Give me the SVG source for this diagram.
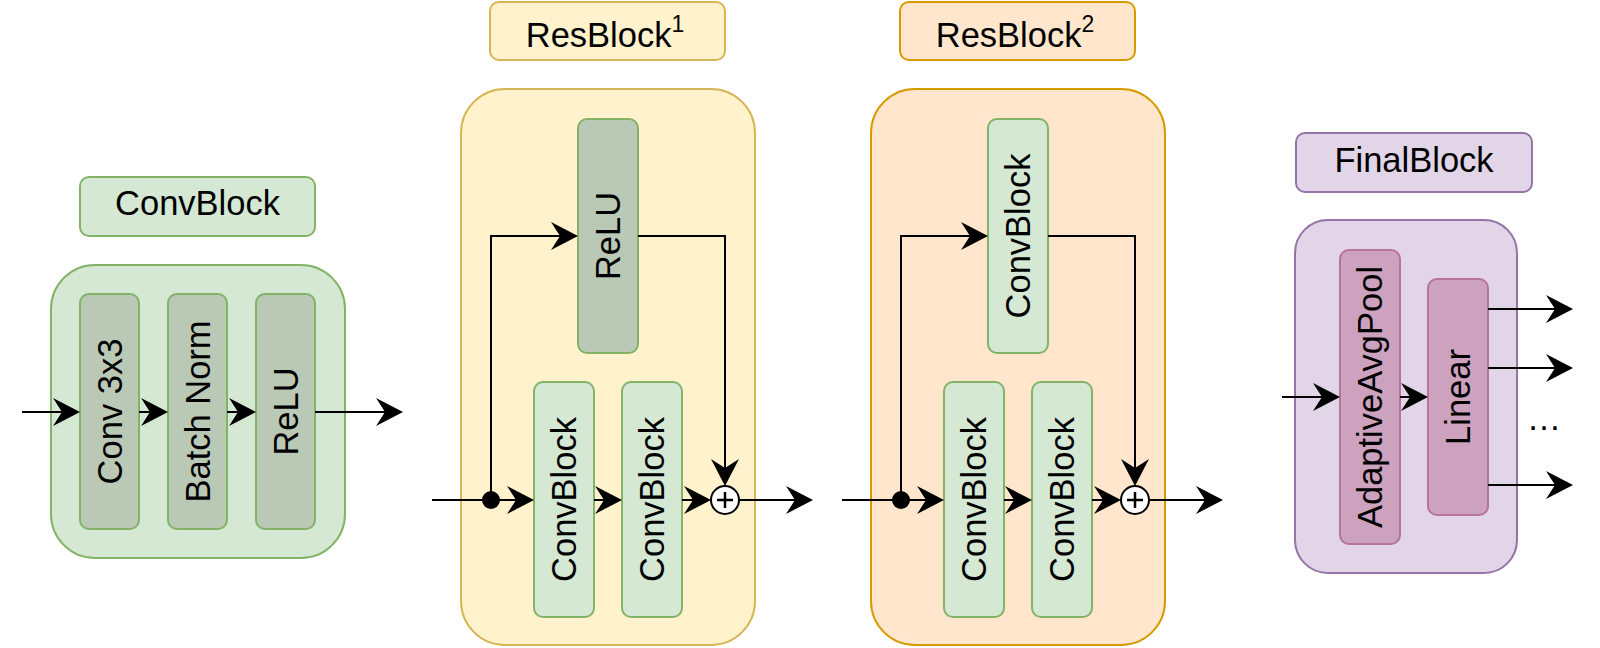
<svg xmlns="http://www.w3.org/2000/svg" width="1600" height="648" viewBox="0 0 1600 648">
<defs>
<marker id="arr" markerUnits="userSpaceOnUse" markerWidth="28" markerHeight="29" refX="9" refY="14" orient="auto" viewBox="0 0 28 29">
<path d="M0,0 L27,14 L0,28 L9,14 Z" fill="#000"/>
</marker>
<style>
text{font-family:"Liberation Sans",Arial,Helvetica,sans-serif;fill:#000;font-size:34.5px}
.t{text-anchor:middle}
.green{fill:#d5e8d4;stroke:#82b366;stroke-width:2}
.gray{fill:#bac9b6;stroke:#82b366;stroke-width:2}
.yel{fill:#fff2cc;stroke:#d6b656;stroke-width:2}
.ora{fill:#ffe6cc;stroke:#d79b00;stroke-width:2}
.pur{fill:#e1d5e7;stroke:#9673a6;stroke-width:2}
.pink{fill:#cda2be;stroke:#b5739d;stroke-width:2}
.c{fill:none;stroke:#000;stroke-width:2}
.a{marker-end:url(#arr)}
</style>
</defs>

<!-- ConvBlock -->
<g id="convblock-label">
<rect class="green" x="80" y="177" width="235" height="59" rx="9"/>
<text class="t" x="197.5" y="215">ConvBlock</text>
</g>
<g id="convblock">
<rect class="green" x="51" y="265" width="294" height="293" rx="44"/>
</g>
<g id="conv3x3">
<rect class="gray" x="80" y="294" width="59" height="235" rx="9"/>
<text class="t" transform="translate(109.5,411.5) rotate(-90)" x="0" y="12">Conv 3x3</text>
</g>
<g id="batchnorm">
<rect class="gray" x="168" y="294" width="59" height="235" rx="9"/>
<text class="t" transform="translate(197.5,411.5) rotate(-90)" x="0" y="12">Batch Norm</text>
</g>
<g id="relu0">
<rect class="gray" x="256" y="294" width="59" height="235" rx="9"/>
<text class="t" transform="translate(285.5,411.5) rotate(-90)" x="0" y="12">ReLU</text>
</g>

<!-- ResBlock 1 -->
<g id="resblock1-label">
<rect class="yel" x="490" y="2" width="235" height="58" rx="9"/>
<text class="t" x="605" y="47">ResBlock<tspan font-size="23" dy="-15">1</tspan></text>
</g>
<g id="resblock1">
<rect class="yel" x="461" y="89" width="294" height="556" rx="44"/>
</g>
<g id="rb1-relu">
<rect class="gray" x="578" y="119" width="60" height="234" rx="9"/>
<text class="t" transform="translate(608,236) rotate(-90)" x="0" y="12">ReLU</text>
</g>
<g id="rb1-cb1">
<rect class="green" x="534" y="382" width="60" height="235" rx="9"/>
<text class="t" transform="translate(564,499.5) rotate(-90)" x="0" y="12">ConvBlock</text>
</g>
<g id="rb1-cb2">
<rect class="green" x="622" y="382" width="60" height="235" rx="9"/>
<text class="t" transform="translate(652,499.5) rotate(-90)" x="0" y="12">ConvBlock</text>
</g>
<g id="rb1-plus">
<circle cx="725" cy="500" r="14" fill="#fff" stroke="#000" stroke-width="2"/>
<path d="M717,500 H733 M725,492 V508" stroke="#000" stroke-width="2.5" fill="none"/>
</g>

<!-- ResBlock 2 -->
<g id="resblock2-label">
<rect class="ora" x="900" y="2" width="235" height="58" rx="9"/>
<text class="t" x="1015" y="47">ResBlock<tspan font-size="23" dy="-15">2</tspan></text>
</g>
<g id="resblock2">
<rect class="ora" x="871" y="89" width="294" height="556" rx="44"/>
</g>
<g id="rb2-cb0">
<rect class="green" x="988" y="119" width="60" height="234" rx="9"/>
<text class="t" transform="translate(1018,236) rotate(-90)" x="0" y="12">ConvBlock</text>
</g>
<g id="rb2-cb1">
<rect class="green" x="944" y="382" width="60" height="235" rx="9"/>
<text class="t" transform="translate(974,499.5) rotate(-90)" x="0" y="12">ConvBlock</text>
</g>
<g id="rb2-cb2">
<rect class="green" x="1032" y="382" width="60" height="235" rx="9"/>
<text class="t" transform="translate(1062,499.5) rotate(-90)" x="0" y="12">ConvBlock</text>
</g>
<g id="rb2-plus">
<circle cx="1135" cy="500" r="14" fill="#fff" stroke="#000" stroke-width="2"/>
<path d="M1127,500 H1143 M1135,492 V508" stroke="#000" stroke-width="2.5" fill="none"/>
</g>

<!-- FinalBlock -->
<g id="finalblock-label">
<rect class="pur" x="1296" y="133" width="236" height="59" rx="9"/>
<text class="t" x="1414" y="172">FinalBlock</text>
</g>
<g id="finalblock">
<rect class="pur" x="1295" y="220" width="222" height="353" rx="33"/>
</g>
<g id="avgpool">
<rect class="pink" x="1340" y="250" width="60" height="294" rx="9"/>
<text class="t" transform="translate(1370,397) rotate(-90)" x="0" y="12">AdaptiveAvgPool</text>
</g>
<g id="linear">
<rect class="pink" x="1428" y="279" width="60" height="236" rx="9"/>
<text class="t" transform="translate(1458,397) rotate(-90)" x="0" y="12">Linear</text>
</g>
<g id="dots">
<text class="t" x="1544" y="430" font-size="34">…</text>
</g>

<!-- Connectors -->
<g id="connectors">
<!-- ConvBlock -->
<path class="c a" d="M22,412 H62"/>
<path class="c a" d="M139,412 H150"/>
<path class="c a" d="M227,412 H238"/>
<path class="c a" d="M315,412 H385"/>
<!-- ResBlock1 -->
<path class="c" d="M432,500 H491"/>
<circle cx="491" cy="500" r="9" fill="#000"/>
<path class="c a" d="M491,500 H516"/>
<path class="c a" d="M594,500 H604"/>
<path class="c a" d="M682,500 H693"/>
<path class="c a" d="M491,500 V236 H560"/>
<path class="c a" d="M638,236 H725 V468"/>
<path class="c a" d="M739,500 H795"/>
<!-- ResBlock2 -->
<path class="c" d="M842,500 H901"/>
<circle cx="901" cy="500" r="9" fill="#000"/>
<path class="c a" d="M901,500 H926"/>
<path class="c a" d="M1004,500 H1014"/>
<path class="c a" d="M1092,500 H1103"/>
<path class="c a" d="M901,500 V236 H970"/>
<path class="c a" d="M1048,236 H1135 V468"/>
<path class="c a" d="M1149,500 H1205"/>
<!-- FinalBlock -->
<path class="c a" d="M1282,397 H1322"/>
<path class="c a" d="M1400,397 H1410"/>
<path class="c a" d="M1488,309 H1555"/>
<path class="c a" d="M1488,368 H1555"/>
<path class="c a" d="M1488,485 H1555"/>
</g>
</svg>
